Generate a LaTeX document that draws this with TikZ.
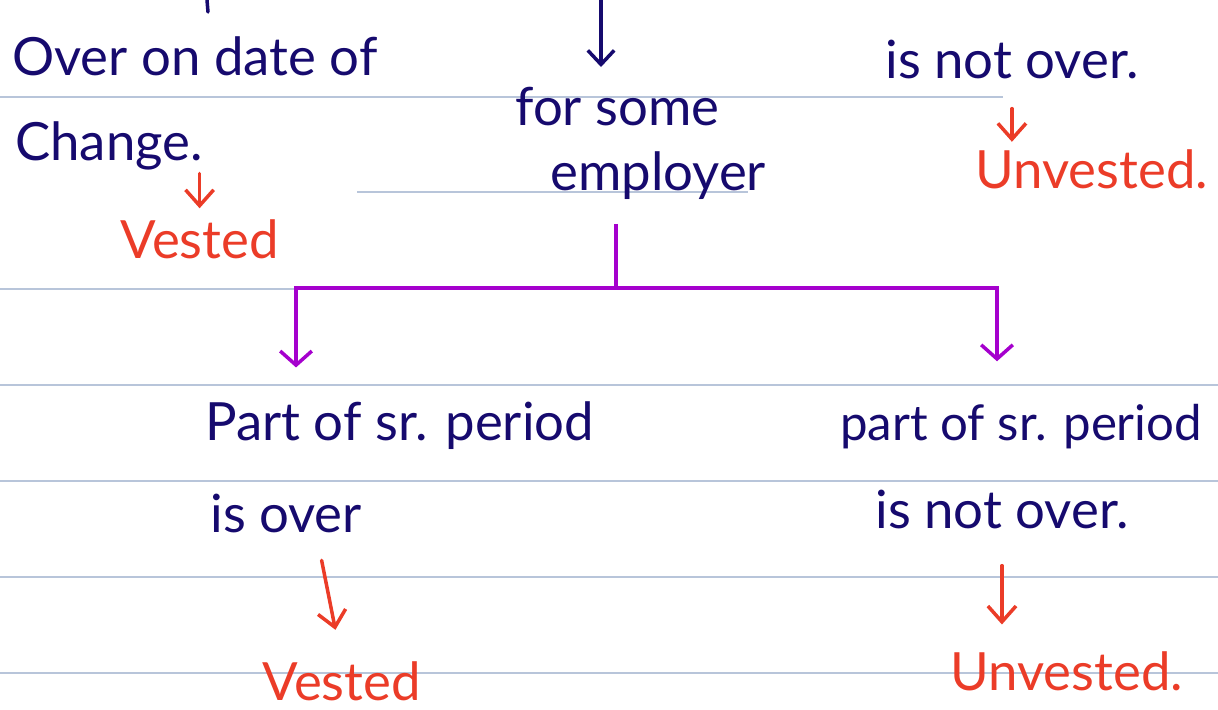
\documentclass[tikz,border=0pt]{standalone}
\usepackage{fontspec}
\setmainfont{Lato}
\usetikzlibrary{arrows.meta, calc}

\definecolor{inkblue}{RGB}{22,10,110}
\definecolor{inkred}{RGB}{235,60,40}
\definecolor{inkpurple}{RGB}{165,0,205}
\definecolor{ruleblue}{RGB}{184,197,218}

\begin{document}
\begin{tikzpicture}[x=0.02cm, y=-0.02cm,
    rule/.style={ruleblue, line width=1.1pt},
    ink/.style={inkblue, inner sep=0pt, anchor=base west, font=\fontsize{30}{36}\selectfont},
    redink/.style={ink, inkred},
    inkarr/.style={-{Straight Barb[length=8pt, width=15pt]}, inkblue, line width=2pt, line cap=round},
    redarr/.style={-{Straight Barb[length=9pt, width=16pt]}, inkred, line width=2pt, line cap=round},
    purpline/.style={inkpurple, line width=2pt},
    purparr/.style={purpline, -{Straight Barb[length=8pt, width=18pt]}},
  ]
    \clip (0,0) rectangle (1218,710);

    % Ruled lines
    \draw[rule] (0,97) -- (1003,97);
    \draw[rule] (357,192) -- (748,192);
    \draw[rule] (0,289) -- (997,289);
    \foreach \y in {385,481,577,673}
      \draw[rule] (0,\y) -- (1218,\y);

    % Top row
    \draw[inkblue, line width=2pt, line cap=round] (207,0) -- (208,12);
    \node[ink] (overdate) at (12,75) {Over on date of};
    \node[ink] (change) at (15,160) {Change.};
    \node[redink] (vestA) at (120,258) {Vested};

    \coordinate (topin) at (601,0);
    \node[ink] (forsome) at (515,125) {for some};
    \node[ink] (employer) at (550,190) {employer};

    \node[ink] (notover) at (885,78) {is not over.};
    \node[redink] (unvestA) at (975,188) {Unvested.};

    \draw[inkarr, shorten >=11pt] (topin) -- (topin |- forsome.north);
    \draw[redarr, shorten <=2pt, shorten >=6pt] (vestA.north |- change.south) -- (vestA.north);
    \draw[redarr, shorten <=17pt, shorten >=4pt] (notover.south) -- (notover.south |- unvestA.north);

    % Split
    \coordinate (split) at (616,288);
    \coordinate (lcorner) at (296,288);
    \coordinate (rcorner) at (997,288);

    \node[ink] (partover) at (205,440) {Part of sr. period};
    \node[ink] (isover) at (210,532) {is over};
    \node[redink] (vestB) at (262,700) {Vested};

    \node[ink, font=\fontsize{28}{34}\selectfont] (partnot) at (840,440) {part of sr. period};
    \node[ink] (isnot) at (875,528) {is not over.};
    \node[redink] (unvestB) at (950,690) {Unvested.};

    \draw[purpline, shorten <=14pt] (split |- employer.south) -- (split);
    \draw[purpline, line cap=rect] (lcorner) -- (rcorner);
    \draw[purparr, shorten >=19pt] (lcorner) -- (lcorner |- partover.north);
    \draw[purparr, shorten >=24pt] (rcorner) -- (rcorner |- partnot.north);

    \draw[redarr, shorten <=16pt, shorten >=18pt] ($(isover.south)+(30,0)$) -- (vestB.north);
    \draw[redarr, shorten <=21pt, shorten >=15pt] (isnot.south) -- (isnot.south |- unvestB.north);
\end{tikzpicture}
\end{document}
